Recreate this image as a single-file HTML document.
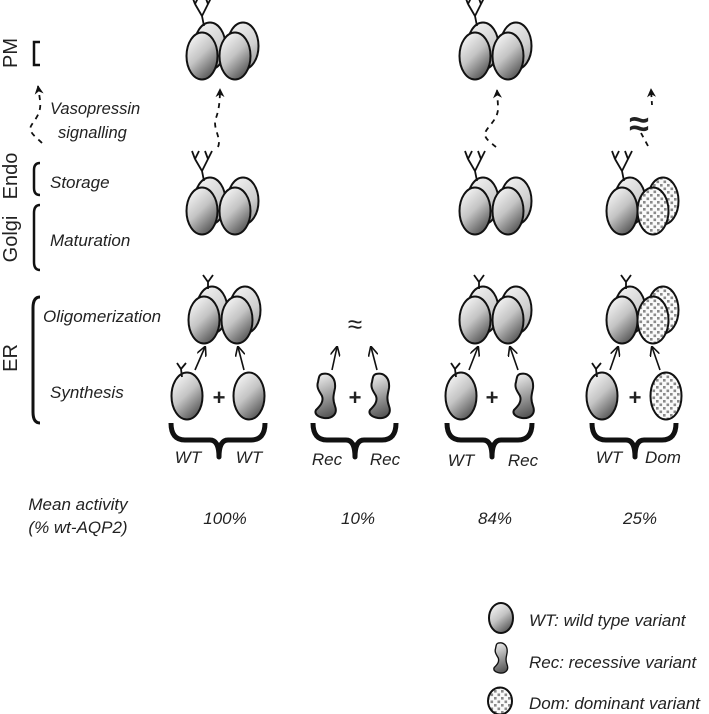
<!DOCTYPE html>
<html><head><meta charset="utf-8"><style>
html,body{margin:0;padding:0;background:#fff;}
svg{display:block;}
text{font-family:"Liberation Sans",sans-serif;font-style:italic;font-size:17px;fill:#222;}
.r{font-style:normal;font-size:20px;}
.p{font-style:normal;font-weight:bold;font-size:22px;}
</style></head><body>
<svg width="709" height="714" viewBox="0 0 709 714" xmlns="http://www.w3.org/2000/svg">
<defs>
<linearGradient id="gf" x1="0.2" y1="0.05" x2="0.8" y2="1">
<stop offset="0" stop-color="#f4f4f4"/><stop offset="0.45" stop-color="#c4c4c4"/><stop offset="1" stop-color="#4a4a4a"/></linearGradient>
<linearGradient id="gb" x1="0.2" y1="0.05" x2="0.8" y2="1">
<stop offset="0" stop-color="#f0f0f0"/><stop offset="0.6" stop-color="#d0d0d0"/><stop offset="1" stop-color="#999"/></linearGradient>
<linearGradient id="gr" x1="0.3" y1="0" x2="0.5" y2="1">
<stop offset="0" stop-color="#eee"/><stop offset="0.45" stop-color="#aaa"/><stop offset="1" stop-color="#555"/></linearGradient>
<pattern id="pd" patternUnits="userSpaceOnUse" width="7" height="7">
<rect width="7" height="7" fill="#fafafa"/><rect x="0.5" y="0.5" width="2.6" height="2.6" fill="#8a8a8a"/><rect x="4" y="4" width="2.6" height="2.6" fill="#8a8a8a"/></pattern>
<symbol id="wf" overflow="visible"><ellipse cx="0" cy="0" rx="15.5" ry="23.5" fill="url(#gf)" stroke="#111" stroke-width="2"/></symbol>
<symbol id="wb" overflow="visible"><ellipse cx="0" cy="0" rx="15.5" ry="23.5" fill="url(#gb)" stroke="#111" stroke-width="2"/></symbol>
<symbol id="df" overflow="visible"><ellipse cx="0" cy="0" rx="15.5" ry="23.5" fill="url(#pd)" stroke="#111" stroke-width="2"/></symbol>
<symbol id="rc" overflow="visible"><path d="M-4,-22 C4,-24 10,-18 9,-8 C8,-2 6,2 9,10 C12,18 6,23 -2,22 C-8,21 -12,18 -10,14 C-6,10 -2,6 -4,0 C-6,-4 -10,-8 -8,-14 C-7,-19 -7,-21 -4,-22 Z" fill="url(#gr)" stroke="#111" stroke-width="2"/></symbol>
<symbol id="ant2" overflow="visible"><path d="M2,-30 L0,-40 L-7,-52 M0,-40 L6,-52 M-7,-52 L-10,-60 M-7,-52 L-3,-60 M6,-52 L3,-60 M6,-52 L10,-60" fill="none" stroke="#111" stroke-width="1.8"/></symbol>
<symbol id="ant1" overflow="visible"><path d="M4,-31 L4,-38 M4,-38 L-1,-45 M4,-38 L9,-45" fill="none" stroke="#111" stroke-width="1.8"/></symbol>
<symbol id="antm" overflow="visible"><path d="M-5,-19 L-6,-27 M-6,-27 L-10,-33 M-6,-27 L-1,-33" fill="none" stroke="#111" stroke-width="1.8"/></symbol>
<symbol id="tw" overflow="visible"><use href="#wb" x="8" y="-10"/><use href="#wb" x="41" y="-10"/><use href="#wf" x="0" y="0"/><use href="#wf" x="33" y="0"/></symbol>
<symbol id="td" overflow="visible"><use href="#wb" x="8" y="-10"/><use href="#df" x="41" y="-10"/><use href="#wf" x="0" y="0"/><use href="#df" x="31" y="0"/></symbol>
<marker id="ah" viewBox="0 0 10 10" refX="9" refY="5" markerWidth="9" markerHeight="9" orient="auto" markerUnits="userSpaceOnUse"><path d="M0,0 L10,5 L0,10 L3,5 Z" fill="#111"/></marker>
<marker id="ao" viewBox="0 0 10 10" refX="9" refY="5" markerWidth="10" markerHeight="10" orient="auto" markerUnits="userSpaceOnUse"><path d="M0,0 L10,5 L0,10" fill="none" stroke="#111" stroke-width="1.6"/></marker>
</defs>

<!-- left labels -->
<text class="r" transform="translate(17,53) rotate(-90)" text-anchor="middle">PM</text>
<path d="M40,42 H34 V65 H40" fill="none" stroke="#111" stroke-width="2.5"/>
<path d="M42,143 C36,137 28,132 31,126 C34,120 42,114 40,100 L38,86" fill="none" stroke="#111" stroke-width="1.8" stroke-dasharray="5,5" marker-end="url(#ah)"/>
<text x="50" y="114" style="font-size:16.5px">Vasopressin</text>
<text x="58" y="138" style="font-size:16.5px">signalling</text>
<text class="r" transform="translate(17,176) rotate(-90)" text-anchor="middle">Endo</text>
<path d="M40,163 Q34,163 34,170 V188 Q34,195 40,195" fill="none" stroke="#111" stroke-width="2.5"/>
<text x="50" y="188">Storage</text>
<text class="r" transform="translate(17,239) rotate(-90)" text-anchor="middle">Golgi</text>
<path d="M40,205 Q34,205 34,213 V262 Q34,270 40,270" fill="none" stroke="#111" stroke-width="2.5"/>
<text x="50" y="246">Maturation</text>
<text class="r" transform="translate(17,358) rotate(-90)" text-anchor="middle">ER</text>
<path d="M40,297 Q33,297 33,308 V412 Q33,423 40,423" fill="none" stroke="#111" stroke-width="3"/>
<text x="43" y="322">Oligomerization</text>
<text x="50" y="398">Synthesis</text>

<!-- column 1 -->
<use href="#tw" x="202" y="56"/><use href="#ant2" x="202" y="56"/>
<path d="M218,147 C222,138 212,128 216,118 C219,110 220,100 220,89" fill="none" stroke="#111" stroke-width="1.8" stroke-dasharray="5,5" marker-end="url(#ah)"/>
<use href="#tw" x="202" y="211"/><use href="#ant2" x="202" y="211"/>
<use href="#tw" x="204" y="320"/><use href="#ant1" x="204" y="320"/>
<use href="#wf" x="187" y="396"/><use href="#antm" x="187" y="396"/>
<use href="#wf" x="249" y="396"/>
<text x="219" y="405" text-anchor="middle" class="p">+</text>
<line x1="195" y1="370" x2="205" y2="347" stroke="#111" stroke-width="1.6" marker-end="url(#ao)"/>
<line x1="244" y1="370" x2="238" y2="347" stroke="#111" stroke-width="1.6" marker-end="url(#ao)"/>

<!-- column 2 -->
<text x="355" y="333" text-anchor="middle" style="font-style:normal;font-size:26px">≈</text>
<use href="#rc" x="326" y="396"/><use href="#rc" x="380" y="396"/>
<text x="355" y="405" text-anchor="middle" class="p">+</text>
<line x1="332" y1="370" x2="337" y2="347" stroke="#111" stroke-width="1.6" marker-end="url(#ao)"/>
<line x1="377" y1="370" x2="371" y2="347" stroke="#111" stroke-width="1.6" marker-end="url(#ao)"/>

<!-- column 3 -->
<use href="#tw" x="475" y="56"/><use href="#ant2" x="475" y="56"/>
<path d="M496,147 C490,142 482,137 486,131 C490,124 499,118 498,106 L497,90" fill="none" stroke="#111" stroke-width="1.8" stroke-dasharray="5,5" marker-end="url(#ah)"/>
<use href="#tw" x="475" y="211"/><use href="#ant2" x="475" y="211"/>
<use href="#tw" x="475" y="320"/><use href="#ant1" x="475" y="320"/>
<use href="#wf" x="461" y="396"/><use href="#antm" x="461" y="396"/>
<use href="#rc" x="524" y="396"/>
<text x="492" y="405" text-anchor="middle" class="p">+</text>
<line x1="469" y1="370" x2="478" y2="347" stroke="#111" stroke-width="1.6" marker-end="url(#ao)"/>
<line x1="518" y1="370" x2="510" y2="347" stroke="#111" stroke-width="1.6" marker-end="url(#ao)"/>

<!-- column 4 -->
<path d="M648,146 L641,133" fill="none" stroke="#111" stroke-width="1.8" stroke-dasharray="5,5"/>
<path d="M652,105 L651,89" fill="none" stroke="#111" stroke-width="1.8" stroke-dasharray="4,4" marker-end="url(#ah)"/>
<text x="639" y="136" text-anchor="middle" style="font-style:normal;font-weight:bold;font-size:36px">≈</text>
<use href="#td" x="622" y="211"/><use href="#ant2" x="622" y="211"/>
<use href="#td" x="622" y="320"/><use href="#ant1" x="622" y="320"/>
<use href="#wf" x="602" y="396"/><use href="#antm" x="602" y="396"/>
<use href="#df" x="666" y="396"/>
<text x="635" y="405" text-anchor="middle" class="p">+</text>
<line x1="610" y1="370" x2="618" y2="347" stroke="#111" stroke-width="1.6" marker-end="url(#ao)"/>
<line x1="660" y1="370" x2="652" y2="347" stroke="#111" stroke-width="1.6" marker-end="url(#ao)"/>

<!-- braces -->
<g fill="none" stroke="#111" stroke-width="5" stroke-linejoin="round">
<path d="M171,423 Q171,440 185,440 H210 Q219,440 219,457 Q219,440 228,440 H251 Q265,440 265,423"/>
<path d="M313,423 Q313,440 327,440 H346 Q355,440 355,457 Q355,440 364,440 H382 Q396,440 396,423"/>
<path d="M447,423 Q447,440 461,440 H483 Q492,440 492,457 Q492,440 501,440 H518 Q532,440 532,423"/>
<path d="M592,423 Q592,440 606,440 H626 Q635,440 635,457 Q635,440 644,440 H662 Q676,440 676,423"/>
</g>
<text x="188" y="463" text-anchor="middle">WT</text><text x="249" y="463" text-anchor="middle">WT</text>
<text x="327" y="465" text-anchor="middle">Rec</text><text x="385" y="465" text-anchor="middle">Rec</text>
<text x="461" y="466" text-anchor="middle">WT</text><text x="523" y="466" text-anchor="middle">Rec</text>
<text x="609" y="463" text-anchor="middle">WT</text><text x="663" y="463" text-anchor="middle">Dom</text>

<!-- activity -->
<text x="78" y="510" text-anchor="middle">Mean activity</text>
<text x="78" y="533" text-anchor="middle">(% wt-AQP2)</text>
<text x="225" y="524" text-anchor="middle">100%</text>
<text x="358" y="524" text-anchor="middle">10%</text>
<text x="495" y="524" text-anchor="middle">84%</text>
<text x="640" y="524" text-anchor="middle">25%</text>

<!-- legend -->
<ellipse cx="501" cy="618" rx="12" ry="15" fill="url(#gf)" stroke="#111" stroke-width="2"/>
<text x="529" y="626">WT: wild type variant</text>
<use href="#rc" transform="translate(501,658) scale(0.68)"/>
<text x="529" y="668">Rec: recessive variant</text>
<ellipse cx="500" cy="701" rx="12" ry="13.5" fill="url(#pd)" stroke="#111" stroke-width="2"/>
<text x="529" y="709">Dom: dominant variant</text>
</svg>
</body></html>
